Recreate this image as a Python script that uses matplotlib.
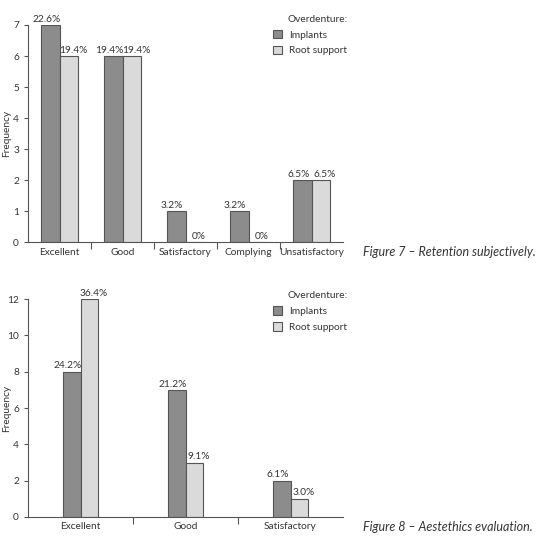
import numpy as np
import matplotlib.pyplot as plt
from matplotlib.patches import Patch

plt.rcParams["font.family"] = ["Lato", "DejaVu Sans"]

# Figure 7 data
ret_cats = ["Excellent", "Good", "Satisfactory", "Complying", "Unsatisfactory"]
ret_implants = [7, 6, 1, 1, 2]
ret_root = [6, 6, 0, 0, 2]
ret_imp_pct = ["22.6%", "19.4%", "3.2%", "3.2%", "6.5%"]
ret_root_pct = ["19.4%", "19.4%", "0%", "0%", "6.5%"]

# Figure 8 data
aes_cats = ["Excellent", "Good", "Satisfactory"]
aes_implants = [8, 7, 2]
aes_root = [12, 3, 1]
aes_imp_pct = ["24.2%", "21.2%", "6.1%"]
aes_root_pct = ["36.4%", "9.1%", "3.0%"]

dark = "#8c8c8c"
light = "#dadada"
edge = "#555555"
txt = "#333333"

fig = plt.figure(figsize=(5.45, 5.43), dpi=100)


def draw(ax, cats, imp, root, imp_pct, root_pct, width, ymax, yticks, caption, cap_y, leg_y):
    x = np.arange(len(cats))
    ax.bar(x - width / 2, imp, width, color=dark, edgecolor=edge, linewidth=0.8)
    ax.bar(x + width / 2, root, width, color=light, edgecolor=edge, linewidth=0.8)
    # labels nudged apart so neighbouring percentages don't collide
    for i in range(len(cats)):
        ax.annotate(imp_pct[i], (x[i] - width / 2, imp[i]), xytext=(-3, 1),
                    textcoords="offset points", ha="center", va="bottom",
                    fontsize=7.3, color=txt)
        ax.annotate(root_pct[i], (x[i] + width / 2, root[i]), xytext=(3, 1),
                    textcoords="offset points", ha="center", va="bottom",
                    fontsize=7.3, color=txt)
    ax.set_xlim(-0.5, len(cats) - 0.5)
    ax.set_ylim(0, ymax)
    ax.set_yticks(yticks)
    ax.set_xticks(x)
    ax.set_xticklabels(cats)
    ax.set_xticks(np.arange(len(cats) - 1) + 0.5, minor=True)
    ax.tick_params(axis="x", which="major", length=0, labelsize=7.3, colors=txt, pad=4)
    ax.tick_params(axis="x", which="minor", length=5, width=0.8, color=edge)
    ax.tick_params(axis="y", length=3, width=0.8, labelsize=7.3, colors=txt, color=edge)
    for s in ["top", "right"]:
        ax.spines[s].set_visible(False)
    for s in ["left", "bottom"]:
        ax.spines[s].set_color(edge)
        ax.spines[s].set_linewidth(0.8)
    ax.set_ylabel("Frequency", fontsize=7.3, color=txt)
    ax.yaxis.set_label_coords(-0.054, 0.5)
    handles = [Patch(facecolor=dark, edgecolor=edge, linewidth=0.8, label="Implants"),
               Patch(facecolor=light, edgecolor=edge, linewidth=0.8, label="Root support")]
    leg = fig.legend(handles=handles, title="Overdenture:", loc="upper left",
                     bbox_to_anchor=(0.492, leg_y), frameon=False, fontsize=7.3,
                     title_fontsize=7.3, handlelength=0.9, handleheight=0.9,
                     handletextpad=0.7, labelspacing=0.6, borderpad=0)
    leg._legend_box.align = "right"
    for t in leg.get_texts():
        t.set_color(txt)
    leg.get_title().set_color(txt)
    fig.text(0.666, cap_y, caption, ha="left", va="center", fontsize=9,
             style="italic", color=txt)


ax1 = fig.add_axes([0.0514, 0.554, 0.578, 0.400])
draw(ax1, ret_cats, ret_implants, ret_root, ret_imp_pct, ret_root_pct,
     0.29, 7, range(0, 8), "Figure 7 \u2013 Retention subjectively.", 0.535, 0.982)

ax2 = fig.add_axes([0.0514, 0.048, 0.578, 0.401])
draw(ax2, aes_cats, aes_implants, aes_root, aes_imp_pct, aes_root_pct,
     0.171, 12, range(0, 13, 2), "Figure 8 \u2013 Aestethics evaluation.", 0.030, 0.473)

fig.savefig("out.png", dpi=100)
